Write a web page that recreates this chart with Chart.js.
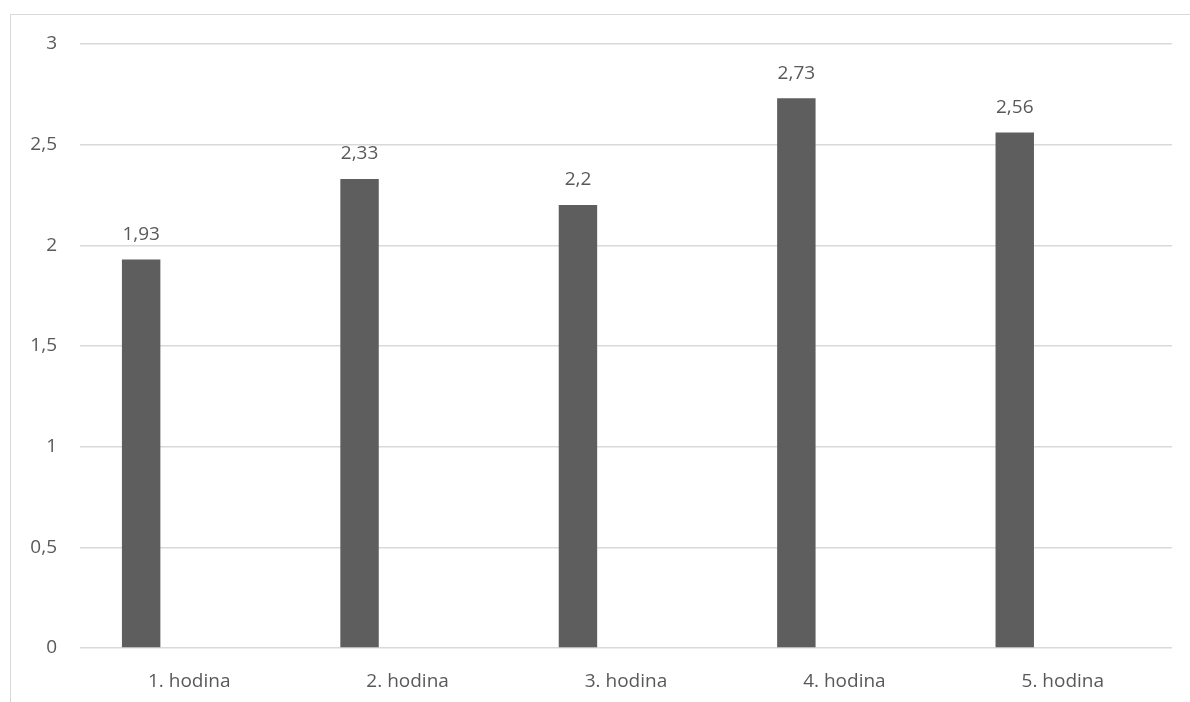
<!DOCTYPE html>
<html>
<head>
<meta charset="utf-8">
<script src="https://cdn.jsdelivr.net/npm/chart.js@4.4.1/dist/chart.umd.min.js"></script>
<style>
  html, body { margin: 0; padding: 0; background: #fff; overflow: hidden; }
  #ramecek { position: absolute; left: 10px; top: 14px; width: 1300px; height: 800px; border: 1px solid #d9d9d9; }
  #graf { position: absolute; left: 0; top: 0; }
</style>
</head>
<body>
<div id="ramecek"></div>
<canvas id="graf" width="1190" height="702"></canvas>
<script>
// data
const kategorie = ["1. hodina", "2. hodina", "3. hodina", "4. hodina", "5. hodina"];
const hodnoty = [1.93, 2.33, 2.2, 2.73, 2.56];
const prazdna = [null, null, null, null, null]; // druha rada je v grafu prazdna
const osaY = { min: 0, max: 3, krok: 0.5 };

const barvaTextu = '#595959';
const pismo = '"Open Sans", "Liberation Sans", sans-serif';

const cislo = v => String(v).replace('.', ',');

// popisky hodnot nad sloupci
const popisky = {
    id: 'popisky',
    afterDatasetsDraw(chart) {
        const ctx = chart.ctx;
        const meta = chart.getDatasetMeta(0);
        ctx.save();
        ctx.fillStyle = barvaTextu;
        ctx.font = '19px ' + pismo;
        ctx.textAlign = 'center';
        ctx.textBaseline = 'middle';
        meta.data.forEach((bar, i) => {
            ctx.fillText(cislo(hodnoty[i]), bar.x, bar.y - 25);
        });
        ctx.restore();
    }
};

new Chart(document.getElementById('graf'), {
    type: 'bar',
    data: {
        labels: kategorie,
        datasets: [
            { data: hodnoty, backgroundColor: '#5e5e5e', categoryPercentage: 0.88, barPercentage: 0.4 },
            { data: prazdna, backgroundColor: '#a5a5a5', categoryPercentage: 0.88, barPercentage: 0.4 }
        ]
    },
    options: {
        responsive: false,
        animation: false,
        layout: { padding: { top: 44, right: 18, bottom: 0, left: 0 } },
        plugins: { legend: { display: false }, tooltip: { enabled: false } },
        scales: {
            x: {
                grid: { display: false },
                border: { display: false },
                ticks: { color: barvaTextu, font: { size: 19, family: pismo }, padding: 14, maxRotation: 0 },
                afterFit: s => { s.height = 54; }
            },
            y: {
                min: osaY.min,
                max: osaY.max,
                grid: { color: '#d9d9d9', lineWidth: 1.5, drawTicks: false },
                border: { display: false },
                ticks: { stepSize: osaY.krok, color: barvaTextu, font: { size: 19, family: pismo }, padding: 23, callback: v => cislo(v) },
                afterFit: s => { s.width = 80; }
            }
        }
    },
    plugins: [popisky]
});
</script>
</body>
</html>
